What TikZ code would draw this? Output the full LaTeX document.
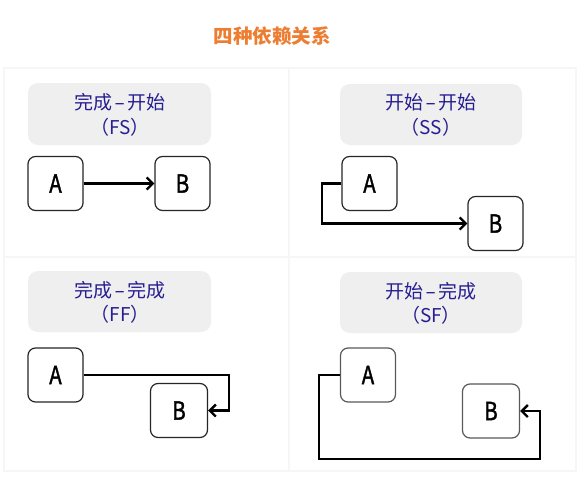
\documentclass[tikz,border=0pt]{standalone}
\usepackage{graphicx}
\usepackage{fontspec}
\setmainfont{Noto Sans CJK SC}
\newfontfamily\letterfont{Noto Sans CJK SC}[FakeBold=1.5]
\usetikzlibrary{arrows.meta}
\definecolor{titleorange}{RGB}{237,125,49}
\definecolor{labelblue}{RGB}{38,30,145}
\definecolor{panelgray}{RGB}{239,239,239}
\definecolor{framegray}{RGB}{246,246,246}
\newcommand\tasklabel[1]{\scalebox{0.82}[1]{#1}}
\newcommand\dashsep{\hspace{1.8pt}\scalebox{1.7}[1]{-}\hspace{1.8pt}}
\tikzset{
  headbox/.style={fill=panelgray, rounded corners=10pt, draw=none},
  headtext/.style={text=labelblue, align=center, font=\fontsize{19}{24.5}\selectfont},
  taskbox/.style={draw=black!85, line width=1.2pt, fill=white, rounded corners=7.5pt,
    minimum width=55pt, minimum height=54pt, inner sep=0pt,
    font=\letterfont\fontsize{25}{25}\selectfont},
  dep/.style={line width=2.4pt, -{Straight Barb[length=6pt,width=12pt,line width=2.4pt]}}
}
\begin{document}
\begin{tikzpicture}[x=1pt,y=-1pt]
\useasboundingbox (0,0) rectangle (582,483);
\fill[white] (0,0) rectangle (582,483);
% title
\node[text=titleorange, font=\fontsize{19.5}{20}\selectfont\bfseries] (title) at (272,36) {四种依赖关系};
% frame
\draw[framegray, line width=1.5pt] (4,68) rectangle (576,471);
\draw[framegray, line width=1.5pt] (289,68) -- (289,471);
\draw[framegray, line width=1.5pt] (4,257) -- (576,257);

% ---- FS ----
\fill[headbox] (28,83) rectangle (211,145);
\node[headtext] (fst) at (120,115) {完成\dashsep 开始\\（FS）};
\node[taskbox] (fsA) at (55.5,183.5) {\tasklabel{A}};
\node[taskbox] (fsB) at (182.5,183.5) {\tasklabel{B}};
\draw[dep] (fsA.east) -- (fsB.west);

% ---- SS ----
\fill[headbox] (340,84) rectangle (522,145);
\node[headtext] (sst) at (431,115) {开始\dashsep 开始\\（SS）};
\node[taskbox] (ssA) at (369.5,183.5) {\tasklabel{A}};
\node[taskbox] (ssB) at (495.5,223.5) {\tasklabel{B}};
\coordinate (ss1) at (322,183.5);
\draw[dep] (ssA.west) -- (ss1) |- (ssB.west);

% ---- FF ----
\fill[headbox] (28,271) rectangle (211,332);
\node[headtext] (fft) at (120,302.5) {完成\dashsep 完成\\（FF）};
\node[taskbox] (ffA) at (55.5,375) {\tasklabel{A}};
\node[taskbox, minimum width=57pt] (ffB) at (179,410.5) {\tasklabel{B}};
\coordinate (ff1) at (229,375);
\draw[dep] (ffA.east) -- (ff1) |- (ffB.east);

% ---- SF ----
\fill[headbox] (340,272) rectangle (522,333);
\node[headtext] (sft) at (431,303.5) {开始\dashsep 完成\\（SF）};
\node[taskbox, draw=black!65] (sfA) at (368,375) {\tasklabel{A}};
\node[taskbox, draw=black!65, minimum width=57pt] (sfB) at (491,411) {\tasklabel{B}};
\coordinate (sf1) at (319,375);
\coordinate (sf2) at (319,459);
\coordinate (sf3) at (540,459);
\draw[dep] (sfA.west) -- (sf1) -- (sf2) -- (sf3) |- (sfB.east);
\end{tikzpicture}
\end{document}
